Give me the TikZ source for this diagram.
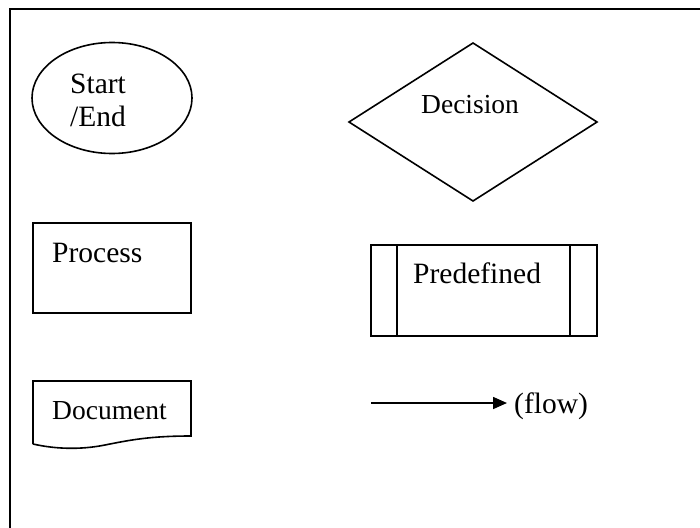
\documentclass[tikz,border=0pt]{standalone}
\usepackage{fontspec}
\setmainfont{Liberation Serif}
\usetikzlibrary{arrows.meta,shapes.geometric}
\begin{document}
\begin{tikzpicture}[x=1pt,y=-1pt,
  shapeline/.style={draw=black,line width=1.6pt},
  frameline/.style={draw=black,line width=2.4pt},
  lbl/.style={inner sep=0pt,anchor=base west,font=\fontsize{29.5}{33}\selectfont},
  lblsmall/.style={inner sep=0pt,anchor=base west,font=\fontsize{27.5}{33}\selectfont},
  flowarrow/.style={draw=black,line width=1.6pt,-{Triangle[length=14pt,width=12pt]}}]
  \useasboundingbox (0,0) rectangle (700,527);
  % page frame (open at right and bottom)
  \draw[frameline] (10,528) -- (10,9) -- (701,9);

  % terminator
  \node[shapeline,ellipse,minimum width=160pt,minimum height=111pt,inner sep=0pt] (term) at (112,98) {};
  \node[lbl,align=left] (termtxt) at (70,126) {Start\\/End};

  % decision
  \coordinate (dn) at (473,43);
  \coordinate (de) at (597,122);
  \coordinate (ds) at (473,201);
  \coordinate (dw) at (349,122);
  \draw[shapeline,line join=miter] (dn) -- (de) -- (ds) -- (dw) -- cycle;
  \node[lblsmall] (dectxt) at (421,113) {Decision};

  % process
  \node[shapeline,rectangle,minimum width=158pt,minimum height=90pt,inner sep=0pt] (proc) at (112,268) {};
  \node[lbl] (proctxt) at (52,262) {Process};

  % predefined process
  \node[shapeline,rectangle,minimum width=226pt,minimum height=91pt,inner sep=0pt] (pred) at (484,290.5) {};
  \draw[shapeline] (pred.north west) ++(27,0) coordinate (pl1) -- (pl1 |- pred.south);
  \draw[shapeline] (pred.north east) ++(-28,0) coordinate (pr1) -- (pr1 |- pred.south);
  \node[lbl] (predtxt) at (413,283) {Predefined};

  % document
  \coordinate (dtl) at (33,381);
  \coordinate (dtr) at (191,381);
  \coordinate (dbr) at (191,436);
  \coordinate (dbl) at (33,444);
  \draw[shapeline,line join=miter] (dbl) -- (dtl) -- (dtr) -- (dbr)
    .. controls (150,436) and (130,440) .. (105,445)
    .. controls (80,450) and (55,449) .. (dbl);
  \node[lblsmall] (doctxt) at (52,419) {Document};

  % flow line
  \coordinate (fstart) at (371,403);
  \coordinate (fend) at (507,403);
  \draw[flowarrow] (fstart) -- (fend);
  \node[lbl] (flowtxt) at (514,413) {(flow)};
\end{tikzpicture}
\end{document}
